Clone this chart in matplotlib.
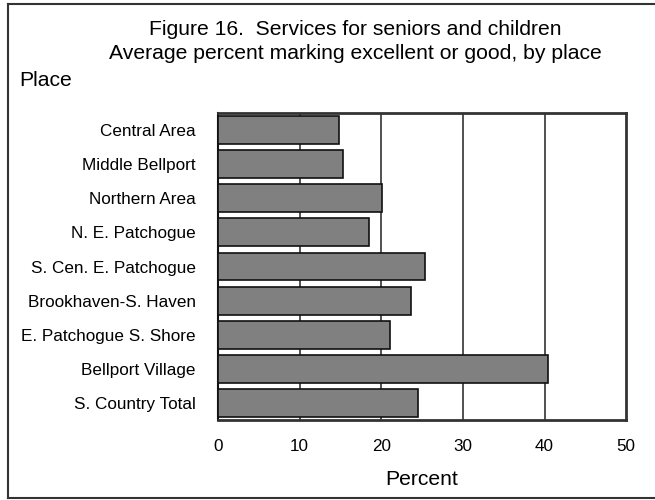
import numpy as np
import matplotlib
matplotlib.use("Agg")
import matplotlib.pyplot as plt
from matplotlib.lines import Line2D

plt.rcParams['font.family'] = ['Liberation Sans', 'DejaVu Sans']

# places, top to bottom
places = ["Central Area", "Middle Bellport", "Northern Area", "N. E. Patchogue",
          "S. Cen. E. Patchogue", "Brookhaven-S. Haven", "E. Patchogue S. Shore",
          "Bellport Village", "S. Country Total"]
# average percent marking excellent or good
percent = [14.8, 15.3, 20.1, 18.5, 25.3, 23.6, 21.0, 40.4, 24.5]
x_ticks = [0, 10, 20, 30, 40, 50]

fig = plt.figure(figsize=(6.55, 5.0), dpi=100)
ax = fig.add_axes([0.333, 0.16, 0.623, 0.614])

y = np.arange(len(places))
ax.barh(y, percent, height=0.82, color="#808080", edgecolor="#111111",
        linewidth=1.2, zorder=3)

# vertical grid lines behind the bars
for v in x_ticks[1:-1]:
    ax.axvline(v, color="#333333", linewidth=1.2, zorder=1)

ax.set_xlim(0, 50)
ax.set_ylim(len(places) - 0.5, -0.5)
ax.set_xticks(x_ticks)
ax.set_yticks(y)
ax.set_yticklabels(places)
ax.tick_params(axis="both", length=0, labelsize=12.3)
ax.tick_params(axis="x", pad=14)
ax.tick_params(axis="y", pad=16)

ax.spines["left"].set_color("#111111")
ax.spines["left"].set_linewidth(1.5)
for s in ["top", "right", "bottom"]:
    ax.spines[s].set_color("#333333")
    ax.spines[s].set_linewidth(2.0)

ax.set_xlabel("Percent", fontsize=15.2, labelpad=11)

fig.text(0.543, 0.941, "Figure 16.  Services for seniors and children",
         ha="center", va="center", fontsize=15.2)
fig.text(0.543, 0.893, "Average percent marking excellent or good, by place",
         ha="center", va="center", fontsize=15.2)
fig.text(0.029, 0.838, "Place", ha="left", va="center", fontsize=15.2)

# outer frame around the figure
fig.add_artist(Line2D([0.012, 1.0], [0.993, 0.993], color="#333333", linewidth=1.5))
fig.add_artist(Line2D([0.012, 0.012], [0.005, 0.993], color="#333333", linewidth=1.5))
fig.add_artist(Line2D([0.012, 1.0], [0.005, 0.005], color="#333333", linewidth=1.5))

fig.savefig("out.png", dpi=100)
